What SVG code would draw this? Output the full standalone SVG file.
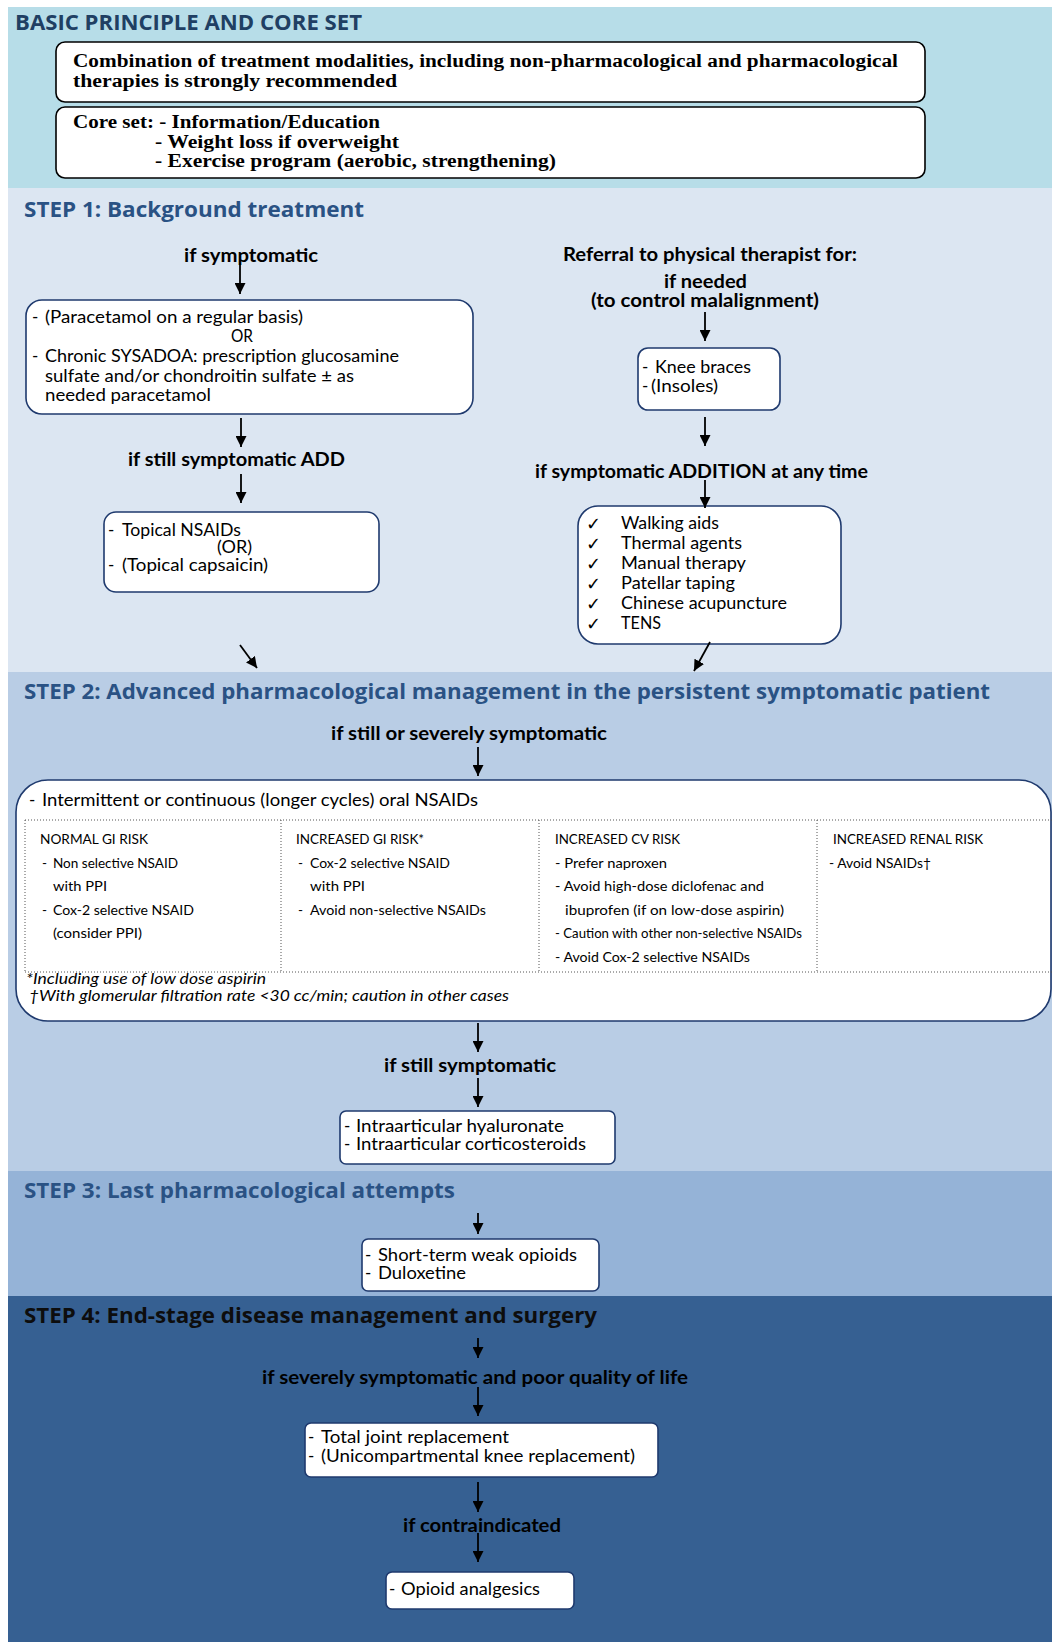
<svg xmlns="http://www.w3.org/2000/svg" width="1052" height="1642" viewBox="0 0 1052 1642">
<defs>
<marker id="ah" viewBox="0 0 12 12" refX="12" refY="6" markerWidth="11" markerHeight="11" markerUnits="userSpaceOnUse" orient="auto">
<path d="M0,0 L12,6 L0,12 Z" fill="#000"/>
</marker>
<style>
.hd{font-family:"Open Sans","DejaVu Sans",sans-serif;font-weight:700;font-size:22px;}
.sf{font-family:"Liberation Serif","DejaVu Serif",serif;font-weight:700;font-size:18px;fill:#000;}
.b{font-family:Lato,"Liberation Sans",sans-serif;font-size:17px;fill:#000;}
.lb{font-family:Lato,"Liberation Sans",sans-serif;font-weight:700;font-size:18px;fill:#000;}
.t{font-family:Lato,"Liberation Sans",sans-serif;font-size:13.5px;fill:#000;}
.it{font-family:Lato,"Liberation Sans",sans-serif;font-style:italic;font-size:15px;fill:#000;}
.ck{font-family:"DejaVu Sans",sans-serif;font-size:18px;fill:#000;}
.bx{fill:#fff;stroke:#1f3a6e;stroke-width:1.6;}
.bk{fill:#fff;stroke:#000;stroke-width:1.6;}
.dt{fill:none;stroke:#555;stroke-width:1;stroke-dasharray:1 2;}
.cn{stroke:#000;stroke-width:1.8;fill:none;marker-end:url(#ah);}
</style>
</defs>
<rect x="0" y="0" width="1052" height="1642" fill="#fff"/>
<g id="bands">
<rect x="8" y="7" width="1044" height="181" fill="#b7dde8"/>
<rect x="8" y="188" width="1044" height="484" fill="#dce6f2"/>
<rect x="8" y="672" width="1044" height="499" fill="#b9cde5"/>
<rect x="8" y="1171" width="1044" height="125" fill="#95b3d7"/>
<rect x="8" y="1296" width="1044" height="346" fill="#366092"/>
</g>
<g id="headers">
<text class="hd" x="15" y="30" font-size="21" textLength="347" lengthAdjust="spacingAndGlyphs" fill="#203f63">BASIC PRINCIPLE AND CORE SET</text>
<text class="hd" x="24" y="217" textLength="340" lengthAdjust="spacingAndGlyphs" fill="#2a5284">STEP 1: Background treatment</text>
<text class="hd" x="24" y="699" textLength="966" lengthAdjust="spacingAndGlyphs" fill="#2a5284">STEP 2: Advanced pharmacological management in the persistent symptomatic patient</text>
<text class="hd" x="24" y="1198" textLength="431" lengthAdjust="spacingAndGlyphs" fill="#2a5284">STEP 3: Last pharmacological attempts</text>
<text class="hd" x="24" y="1323" textLength="573" lengthAdjust="spacingAndGlyphs" fill="#0d0d0d">STEP 4: End-stage disease management and surgery</text>
</g>
<g id="principle">
<rect class="bk" x="56" y="42" width="869" height="60" rx="9"/>
<text class="sf" x="73" y="67" textLength="825" lengthAdjust="spacingAndGlyphs">Combination of treatment modalities, including non-pharmacological and pharmacological</text>
<text class="sf" x="73" y="87" textLength="324" lengthAdjust="spacingAndGlyphs">therapies is strongly recommended</text>
</g>
<g id="coreset">
<rect class="bk" x="56" y="107" width="869" height="71" rx="9"/>
<text class="sf" x="73" y="128" textLength="307" lengthAdjust="spacingAndGlyphs">Core set: - Information/Education</text>
<text class="sf" x="155" y="148" textLength="244" lengthAdjust="spacingAndGlyphs">- Weight loss if overweight</text>
<text class="sf" x="155" y="167" textLength="401" lengthAdjust="spacingAndGlyphs">- Exercise program (aerobic, strengthening)</text>
</g>
<g id="lbl-symptomatic">
<text class="lb" x="184" y="262" textLength="134" lengthAdjust="spacingAndGlyphs">if symptomatic</text>
</g>
<g id="box-paracetamol">
<rect class="bx" x="26" y="300" width="447" height="114" rx="16"/>
<text class="b" x="32" y="323">-</text>
<text class="b" x="45" y="323" textLength="258" lengthAdjust="spacingAndGlyphs">(Paracetamol on a regular basis)</text>
<text class="b" x="231" y="342" textLength="22" lengthAdjust="spacingAndGlyphs">OR</text>
<text class="b" x="32" y="362">-</text>
<text class="b" x="45" y="362" textLength="354" lengthAdjust="spacingAndGlyphs">Chronic SYSADOA: prescription glucosamine</text>
<text class="b" x="45" y="382" textLength="309" lengthAdjust="spacingAndGlyphs">sulfate and/or chondroitin sulfate ± as</text>
<text class="b" x="45" y="401" textLength="166" lengthAdjust="spacingAndGlyphs">needed paracetamol</text>
</g>
<g id="lbl-still-add">
<text class="lb" x="128" y="466" textLength="217" lengthAdjust="spacingAndGlyphs">if still symptomatic ADD</text>
</g>
<g id="box-topical">
<rect class="bx" x="104" y="512" width="275" height="80" rx="12"/>
<text class="b" x="108" y="536">-</text>
<text class="b" x="122" y="536" textLength="119" lengthAdjust="spacingAndGlyphs">Topical NSAIDs</text>
<text class="b" x="217" y="553" textLength="35" lengthAdjust="spacingAndGlyphs">(OR)</text>
<text class="b" x="108" y="571">-</text>
<text class="b" x="122" y="571" textLength="146" lengthAdjust="spacingAndGlyphs">(Topical capsaicin)</text>
</g>
<g id="lbl-referral">
<text class="lb" x="563" y="261" textLength="294" lengthAdjust="spacingAndGlyphs">Referral to physical therapist for:</text>
<text class="lb" x="664" y="288" textLength="83" lengthAdjust="spacingAndGlyphs">if needed</text>
<text class="lb" x="591" y="307" textLength="228" lengthAdjust="spacingAndGlyphs">(to control malalignment)</text>
</g>
<g id="box-braces">
<rect class="bx" x="638" y="348" width="142" height="62" rx="10"/>
<text class="b" x="642" y="373">-</text>
<text class="b" x="655" y="373" textLength="96" lengthAdjust="spacingAndGlyphs">Knee braces</text>
<text class="b" x="642" y="392">-</text>
<text class="b" x="651" y="392" textLength="67" lengthAdjust="spacingAndGlyphs">(Insoles)</text>
</g>
<g id="lbl-addition">
<text class="lb" x="535" y="478" textLength="333" lengthAdjust="spacingAndGlyphs">if symptomatic ADDITION at any time</text>
</g>
<g id="box-physical">
<rect class="bx" x="578" y="506" width="263" height="138" rx="20"/>
<text class="ck" x="586" y="530">✓</text>
<text class="b" x="621" y="529" textLength="98" lengthAdjust="spacingAndGlyphs">Walking aids</text>
<text class="ck" x="586" y="550">✓</text>
<text class="b" x="621" y="549" textLength="121" lengthAdjust="spacingAndGlyphs">Thermal agents</text>
<text class="ck" x="586" y="570">✓</text>
<text class="b" x="621" y="569" textLength="125" lengthAdjust="spacingAndGlyphs">Manual therapy</text>
<text class="ck" x="586" y="590">✓</text>
<text class="b" x="621" y="589" textLength="114" lengthAdjust="spacingAndGlyphs">Patellar taping</text>
<text class="ck" x="586" y="610">✓</text>
<text class="b" x="621" y="609" textLength="166" lengthAdjust="spacingAndGlyphs">Chinese acupuncture</text>
<text class="ck" x="586" y="630">✓</text>
<text class="b" x="621" y="629" textLength="40" lengthAdjust="spacingAndGlyphs">TENS</text>
</g>
<g id="lbl-severely">
<text class="lb" x="331" y="740" textLength="276" lengthAdjust="spacingAndGlyphs">if still or severely symptomatic</text>
</g>
<g id="box-nsaids">
<rect class="bx" x="16" y="780" width="1035" height="241" rx="32"/>
<text class="b" x="29" y="806">-</text>
<text class="b" x="42" y="806" textLength="436" lengthAdjust="spacingAndGlyphs">Intermittent or continuous (longer cycles) oral NSAIDs</text>
<line class="dt" x1="25" y1="820" x2="1052" y2="820"/>
<line class="dt" x1="25" y1="972" x2="1052" y2="972"/>
<line class="dt" x1="25" y1="820" x2="25" y2="972"/>
<line class="dt" x1="281" y1="820" x2="281" y2="972"/>
<line class="dt" x1="539" y1="820" x2="539" y2="972"/>
<line class="dt" x1="817" y1="820" x2="817" y2="972"/>
<text class="t" x="40" y="844" textLength="108" lengthAdjust="spacingAndGlyphs">NORMAL GI RISK</text>
<text class="t" x="42" y="868">-</text>
<text class="t" x="53" y="868" textLength="125" lengthAdjust="spacingAndGlyphs">Non selective NSAID</text>
<text class="t" x="53" y="891" textLength="54" lengthAdjust="spacingAndGlyphs">with PPI</text>
<text class="t" x="42" y="915">-</text>
<text class="t" x="53" y="915" textLength="141" lengthAdjust="spacingAndGlyphs">Cox-2 selective NSAID</text>
<text class="t" x="53" y="938" textLength="89" lengthAdjust="spacingAndGlyphs">(consider PPI)</text>
<text class="t" x="296" y="844" textLength="128" lengthAdjust="spacingAndGlyphs">INCREASED GI RISK*</text>
<text class="t" x="298" y="868">-</text>
<text class="t" x="310" y="868" textLength="140" lengthAdjust="spacingAndGlyphs">Cox-2 selective NSAID</text>
<text class="t" x="310" y="891" textLength="55" lengthAdjust="spacingAndGlyphs">with PPI</text>
<text class="t" x="298" y="915">-</text>
<text class="t" x="310" y="915" textLength="176" lengthAdjust="spacingAndGlyphs">Avoid non-selective NSAIDs</text>
<text class="t" x="555" y="844" textLength="125" lengthAdjust="spacingAndGlyphs">INCREASED CV RISK</text>
<text class="t" x="555" y="868" textLength="112" lengthAdjust="spacingAndGlyphs">- Prefer naproxen</text>
<text class="t" x="555" y="891" textLength="209" lengthAdjust="spacingAndGlyphs">- Avoid high-dose diclofenac and</text>
<text class="t" x="565" y="915" textLength="219" lengthAdjust="spacingAndGlyphs">ibuprofen (if on low-dose aspirin)</text>
<text class="t" x="555" y="938" textLength="247" lengthAdjust="spacingAndGlyphs">- Caution with other non-selective NSAIDs</text>
<text class="t" x="555" y="962" textLength="195" lengthAdjust="spacingAndGlyphs">- Avoid Cox-2 selective NSAIDs</text>
<text class="t" x="833" y="844" textLength="150" lengthAdjust="spacingAndGlyphs">INCREASED RENAL RISK</text>
<text class="t" x="829" y="868" textLength="102" lengthAdjust="spacingAndGlyphs">- Avoid NSAIDs†</text>
<text class="it" x="26" y="984" textLength="240" lengthAdjust="spacingAndGlyphs">*Including use of low dose aspirin</text>
<text class="it" x="29" y="1001" textLength="480" lengthAdjust="spacingAndGlyphs">†With glomerular filtration rate &lt;30 cc/min; caution in other cases</text>
</g>
<g id="lbl-still">
<text class="lb" x="384" y="1072" textLength="172" lengthAdjust="spacingAndGlyphs">if still symptomatic</text>
</g>
<g id="box-intraarticular">
<rect class="bx" x="340" y="1111" width="275" height="53" rx="6"/>
<text class="b" x="344" y="1132">-</text>
<text class="b" x="356" y="1132" textLength="208" lengthAdjust="spacingAndGlyphs">Intraarticular hyaluronate</text>
<text class="b" x="344" y="1150">-</text>
<text class="b" x="356" y="1150" textLength="230" lengthAdjust="spacingAndGlyphs">Intraarticular corticosteroids</text>
</g>
<g id="box-opioids-weak">
<rect class="bx" x="362" y="1239" width="237" height="52" rx="6"/>
<text class="b" x="365" y="1261">-</text>
<text class="b" x="378" y="1261" textLength="199" lengthAdjust="spacingAndGlyphs">Short-term weak opioids</text>
<text class="b" x="365" y="1279">-</text>
<text class="b" x="378" y="1279" textLength="88" lengthAdjust="spacingAndGlyphs">Duloxetine</text>
</g>
<g id="lbl-poor-quality">
<text class="lb" x="262" y="1384" textLength="426" lengthAdjust="spacingAndGlyphs">if severely symptomatic and poor quality of life</text>
</g>
<g id="box-surgery">
<rect class="bx" x="305" y="1423" width="353" height="54" rx="6"/>
<text class="b" x="308" y="1443">-</text>
<text class="b" x="321" y="1443" textLength="188" lengthAdjust="spacingAndGlyphs">Total joint replacement</text>
<text class="b" x="308" y="1462">-</text>
<text class="b" x="321" y="1462" textLength="314" lengthAdjust="spacingAndGlyphs">(Unicompartmental knee replacement)</text>
</g>
<g id="lbl-contraindicated">
<text class="lb" x="403" y="1532" textLength="158" lengthAdjust="spacingAndGlyphs">if contraindicated</text>
</g>
<g id="box-opioid-analgesics">
<rect class="bx" x="386" y="1572" width="188" height="37" rx="6"/>
<text class="b" x="389" y="1595">-</text>
<text class="b" x="401" y="1595" textLength="139" lengthAdjust="spacingAndGlyphs">Opioid analgesics</text>
</g>
<g id="connectors">
<line class="cn" x1="240" y1="263" x2="240" y2="294"/>
<line class="cn" x1="241" y1="418" x2="241" y2="447"/>
<line class="cn" x1="241" y1="474" x2="241" y2="503"/>
<line class="cn" x1="705" y1="312" x2="705" y2="341"/>
<line class="cn" x1="705" y1="417" x2="705" y2="446"/>
<line class="cn" x1="705" y1="480" x2="705" y2="508"/>
<line class="cn" x1="710" y1="642" x2="694" y2="671"/>
<line class="cn" x1="240" y1="645" x2="257" y2="668"/>
<line class="cn" x1="478" y1="747" x2="478" y2="776"/>
<line class="cn" x1="478" y1="1023" x2="478" y2="1052"/>
<line class="cn" x1="478" y1="1078" x2="478" y2="1107"/>
<line class="cn" x1="478" y1="1213" x2="478" y2="1234"/>
<line class="cn" x1="478" y1="1338" x2="478" y2="1358"/>
<line class="cn" x1="478" y1="1387" x2="478" y2="1416"/>
<line class="cn" x1="478" y1="1482" x2="478" y2="1512"/>
<line class="cn" x1="478" y1="1533" x2="478" y2="1562"/>
</g>
</svg>
